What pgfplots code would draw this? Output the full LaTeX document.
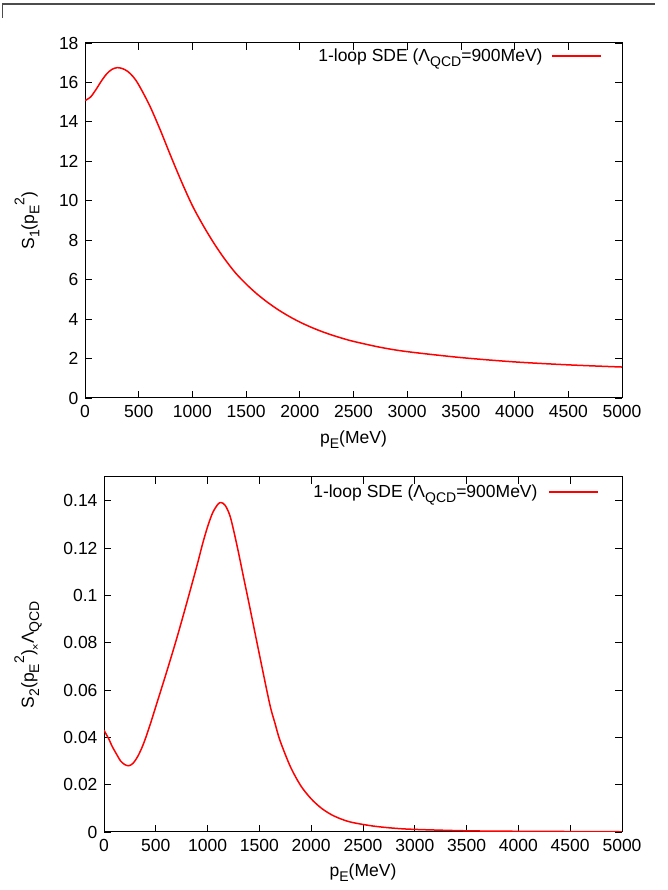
\documentclass[border=0pt]{standalone}
\usepackage{fontspec}
\setmainfont{Liberation Sans}
\usepackage{pgfplots}
\pgfplotsset{compat=1.18}
\newcommand\sub[1]{\raisebox{-0.3em}{\fontsize{14}{14}\selectfont #1}}
\newcommand\sups[1]{\raisebox{0.55em}{\fontsize{14}{14}\selectfont #1}}

\pgfplotstableread{
p s
0 15.08
50 15.25
100 15.62
150 16.05
200 16.42
250 16.66
300 16.75
350 16.70
400 16.55
450 16.28
500 15.88
600 14.85
700 13.60
800 12.25
900 10.95
1000 9.75
1100 8.75
1200 7.85
1300 7.05
1400 6.35
1500 5.78
1600 5.28
1700 4.85
1800 4.47
1900 4.14
2000 3.85
2100 3.60
2200 3.38
2300 3.19
2400 3.02
2500 2.87
2750 2.57
3000 2.35
3500 2.05
4000 1.83
4500 1.68
5000 1.57
}\topdata

\pgfplotstableread{
p s
0 0.0430
25 0.0410
50 0.0390
75 0.0365
100 0.0345
130 0.0322
160 0.0300
200 0.0285
240 0.0280
280 0.0290
320 0.0315
360 0.0350
400 0.0395
450 0.0460
500 0.0530
600 0.0670
700 0.0815
800 0.0970
900 0.1130
950 0.1215
1000 0.1290
1050 0.1350
1100 0.1385
1130 0.1392
1170 0.1380
1220 0.1330
1284 0.1210
1350 0.1070
1400 0.0965
1500 0.0750
1600 0.0540
1650 0.0460
1700 0.0385
1800 0.0275
1900 0.0195
2000 0.0140
2100 0.0100
2200 0.0072
2300 0.0053
2400 0.0040
2600 0.0025
2800 0.0016
3000 0.0011
3500 0.0005
4000 0.0003
4500 0.0002
5000 0.0001
}\botdata

\pgfplotsset{
  gp/.style={
    scale only axis, anchor=south west,
    axis line style={line width=1pt},
    tick style={black, line width=0.8pt},
    major tick length=7pt, tick align=inside,
    xmin=0, xmax=5000, xtick={0,500,...,5000},
    /pgf/number format/1000 sep={},
    /pgf/number format/assume math mode=true,
    scaled y ticks=false, scaled x ticks=false,
    xticklabel style={yshift=-4pt},
    yticklabel style={xshift=-3pt},
    legend style={draw=none, fill=none, inner sep=0pt, outer sep=0pt, nodes={inner sep=0pt}, anchor=east},
    legend plot pos=right,
    legend image code/.code={\draw[#1] (0pt,0pt) -- (49pt,0pt);},
    xlabel={p\sub{E}(MeV)},
  }
}

\begin{document}
\begin{tikzpicture}[font=\fontsize{17.5}{21}\selectfont]
\useasboundingbox (0pt,0pt) rectangle (667pt,890pt);
\draw[line width=1.2pt, black!70] (2.5pt,872pt) -- (2.5pt,886pt) -- (655pt,886pt);

\begin{axis}[gp, at={(85pt,492pt)}, width=537pt, height=355pt,
  ymin=0, ymax=18, ytick={0,2,...,18},
  ylabel={S\sub{1}(p\sub{E}\sups{2})},
  ylabel style={at={(axis description cs:-0.108,0.5)}, anchor=center},
  xlabel style={at={(axis description cs:0.5,-0.118)}, anchor=center},
  legend style={at={(axis description cs:0.9628,0.9634)}},
]
\addplot[red, line width=1.5pt, smooth] table[x=p, y=s] {\topdata};
\addlegendentry{1-loop SDE (Λ\sub{QCD}=900MeV)\hspace*{9pt}}
\end{axis}

\begin{axis}[gp, at={(104pt,58pt)}, width=518pt, height=355pt,
  ymin=0, ymax=0.15, ytick={0,0.02,0.04,0.06,0.08,0.1,0.12,0.14},
  /pgf/number format/fixed, /pgf/number format/precision=2,
  ylabel={S\sub{2}(p\sub{E}\sups{2})\sub{\fontsize{11}{11}\selectfont ×}Λ\sub{QCD}},
  ylabel style={at={(axis description cs:-0.1467,0.5)}, anchor=center},
  xlabel style={at={(axis description cs:0.5,-0.1155)}, anchor=center},
  legend style={at={(axis description cs:0.9556,0.9577)}},
]
\addplot[red, line width=1.5pt, smooth] table[x=p, y=s] {\botdata};
\addlegendentry{1-loop SDE (Λ\sub{QCD}=900MeV)\hspace*{11pt}}
\end{axis}
\end{tikzpicture}
\end{document}
